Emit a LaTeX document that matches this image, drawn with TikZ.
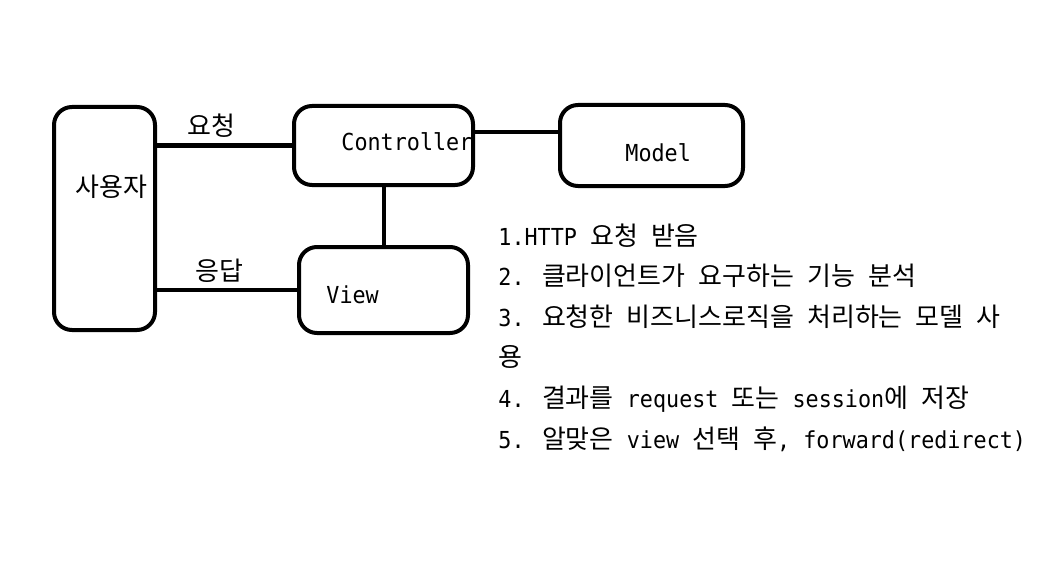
\documentclass[tikz,border=0pt]{standalone}
\usepackage{fontspec}
\setmainfont[FakeStretch=0.93]{DejaVu Sans Mono}
\newfontfamily\kr[Scale=1.11]{Noto Sans CJK KR}
\newcommand{\hg}[1]{{\kr #1}}
\tikzset{
	box/.style={draw, line width=2pt, rounded corners=9pt, inner sep=0pt},
	wire/.style={line width=2pt},
	txt/.style={anchor=base west, inner sep=0pt}
}
\begin{document}
\begin{tikzpicture}[x=0.5pt, y=-0.5pt, font=\fontsize{11.7pt}{20.3pt}\selectfont]
			\useasboundingbox (0,0) rectangle (1049,567);

			\node[box, minimum width=50.5pt, minimum height=111.5pt] (user) at (104.5,218.5) {};
			\node[box, minimum width=89.5pt, minimum height=39.5pt] (ctrl) at (383.5,145.5) {};
			\node[box, minimum width=84.5pt, minimum height=43pt] (view) at (383.5,290) {};
			\node[box, minimum width=91.5pt, minimum height=40.5pt] (model) at (651.5,145.5) {};

			\node[txt] (userlbl) at (75,196) {\hg{사용자}};
			\node[txt] (ctrllbl) at (341,150) {Controller};
			\node[txt] (viewlbl) at (326,303) {View};
			\node[txt] (modellbl) at (625,162) {Model};
			\node[txt] (req) at (187,135) {\hg{요청}};
			\node[txt] (res) at (195,280) {\hg{응답}};

			\draw[wire] (user.east |- ctrl.west) -- (ctrl.west);
			\draw[wire] (user.east |- view.west) -- (view.west);
			\draw[wire] (ctrl.south) -- (view.north);
			\draw[wire] ([yshift=6.75pt]ctrl.east) -- ([yshift=6.75pt]ctrl.east -| model.west);

			% steps
			\node[txt] (s1) at (498,245) {1.HTTP \hg{요청} \hg{받음}};
			\node[txt] (s2) at (498,285.6) {2. \hg{클라이언트가} \hg{요구하는} \hg{기능} \hg{분석}};
			\node[txt] (s3) at (498,326.2) {3. \hg{요청한} \hg{비즈니스로직을} \hg{처리하는} \hg{모델} \hg{사}};
			\node[txt] (s3b) at (498,366.8) {\hg{용}};
			\node[txt] (s4) at (498,407.4) {4. \hg{결과를} request \hg{또는} session\hg{에} \hg{저장}};
			\node[txt] (s5) at (498,448) {5. \hg{알맞은} view \hg{선택} \hg{후}, forward(redirect)};
\end{tikzpicture}
\end{document}
